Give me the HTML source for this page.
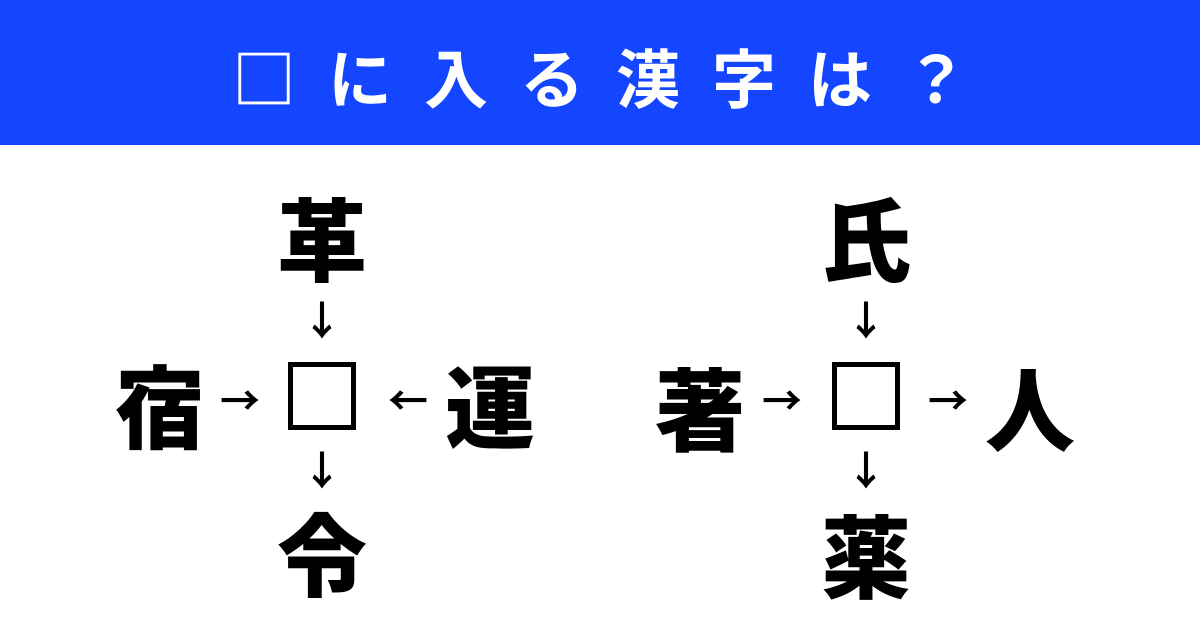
<!DOCTYPE html>
<html><head><meta charset="utf-8"><style>
html,body{margin:0;padding:0;}
body{width:1200px;height:630px;background:#fff;position:relative;overflow:hidden;font-family:"Liberation Sans","Noto Sans CJK JP",sans-serif;}
.hdr{position:absolute;left:0;top:0;width:1200px;height:145px;background:#1446ff;}
.title{position:absolute;left:16px;top:4px;width:1200px;height:145px;line-height:145px;text-align:center;color:#fff;font-size:64px;font-weight:700;letter-spacing:32px;font-family:"Noto Sans CJK JP",sans-serif;}
.k{position:absolute;transform:translate(-50%,-50%);font-family:"Noto Sans CJK JP",sans-serif;font-weight:900;font-size:90px;line-height:1;color:#000;}
.a{position:absolute;transform:translate(-50%,-50%);font-family:"Noto Sans CJK JP",sans-serif;font-size:40px;font-weight:700;line-height:1;color:#000;}
.box{position:absolute;width:58px;height:58px;border:5px solid #000;transform:translate(-50%,-50%);}
</style></head><body>
<div class="hdr"></div>
<div class="title">□に入る漢字は？</div>

<div class="k" style="left:322px;top:235px">革</div>
<div class="a" style="left:322px;top:318px">↓</div>
<div class="box" style="left:322px;top:396px"></div>
<div class="k" style="left:160px;top:402px">宿</div>
<div class="a" style="left:240px;top:398px">→</div>
<div class="a" style="left:408px;top:398px">←</div>
<div class="k" style="left:490px;top:402px">運</div>
<div class="a" style="left:322px;top:468px">↓</div>
<div class="k" style="left:322px;top:550px">令</div>

<div class="k" style="left:866px;top:235px">氏</div>
<div class="a" style="left:866px;top:318px">↓</div>
<div class="box" style="left:866px;top:396px"></div>
<div class="k" style="left:700px;top:405px">著</div>
<div class="a" style="left:782px;top:398px">→</div>
<div class="a" style="left:948px;top:398px">→</div>
<div class="k" style="left:1030px;top:405px">人</div>
<div class="a" style="left:866px;top:468px">↓</div>
<div class="k" style="left:866px;top:552px">薬</div>
</body></html>
